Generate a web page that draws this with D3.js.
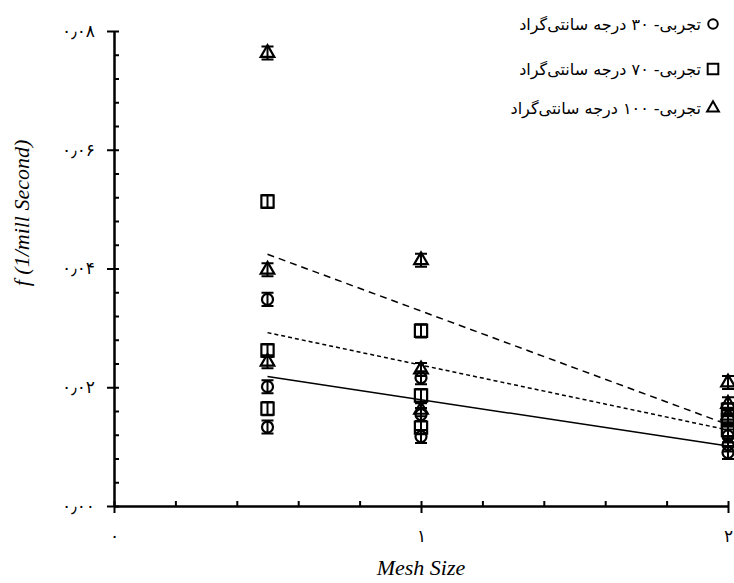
<!DOCTYPE html>
<html>
<meta charset="utf-8">
<script src="https://d3js.org/d3.v7.min.js"></script>
<style>
  body { margin: 0; background: #fff; }
  .fa { font-family: "DejaVu Sans", sans-serif; }
  .title { font-family: "Liberation Serif", "Times New Roman", serif; font-style: italic; }
</style>
<body>
<div id="my_dataviz"></div>
<script>

// mesh size of every measured point (3 repeats per mesh)
var meshX = [0.5, 0.5, 0.5, 1, 1, 1, 2, 2, 2];

// measured f (1/mill second) for each temperature
var f30  = [0.0348, 0.0201, 0.0133, 0.0216, 0.0154, 0.0117, 0.0118, 0.0103, 0.0090];
var f70  = [0.0513, 0.0262, 0.0164, 0.0295, 0.0186, 0.0132, 0.0162, 0.0145, 0.0128];
var f100 = [0.0763, 0.0398, 0.0243, 0.0414, 0.0230, 0.0162, 0.0208, 0.0172, 0.0152];

// error bar half length
var errHalf = 0.0011;

// trend lines (value at mesh 0.5 and mesh 2)
var trendX   = [0.5, 2];
var trend30  = [0.0218, 0.0101];
var trend70  = [0.0292, 0.0128];
var trend100 = [0.0424, 0.0137];

var legendLabels = [
  "تجربی- ۳۰ درجه سانتی‌گراد",
  "تجربی- ۷۰ درجه سانتی‌گراد",
  "تجربی- ۱۰۰ درجه سانتی‌گراد"
];

var xMajor = [0, 1, 2];
var yMajor = [0, 0.02, 0.04, 0.06, 0.08];

var width = 734, height = 583;

var svg = d3.select("#my_dataviz")
  .append("svg")
    .attr("width", width)
    .attr("height", height);

var x = d3.scaleLinear().domain([0, 2]).range([114, 728]);
var y = d3.scaleLinear().domain([0, 0.08]).range([506, 31]);

// persian digits
function fa(s) {
  return "\u200E" + String(s).replace(/[0-9]/g, function(c) { return "۰۱۲۳۴۵۶۷۸۹"[+c]; }).replace(".", "٫");
}

// minor ticks, pointing into the plot
svg.append("g")
    .attr("transform", "translate(0," + y(0) + ")")
    .call(d3.axisBottom(x).tickValues(d3.range(0, 2.001, 0.2)).tickSizeInner(-5).tickSizeOuter(0).tickFormat(""));
svg.append("g")
    .attr("transform", "translate(" + x(0) + ",0)")
    .call(d3.axisLeft(y).tickValues(d3.range(0, 0.0801, 0.004)).tickSizeInner(-5).tickSizeOuter(0).tickFormat(""));

// major ticks with labels
var xAxis = svg.append("g")
    .attr("transform", "translate(0," + y(0) + ")")
    .call(d3.axisBottom(x).tickValues(xMajor).tickSizeInner(7).tickSizeOuter(0).tickPadding(17).tickFormat(function(d) { return fa(d); }));
var yAxis = svg.append("g")
    .attr("transform", "translate(" + x(0) + ",0)")
    .call(d3.axisLeft(y).tickValues(yMajor).tickSizeInner(7).tickSizeOuter(0).tickPadding(12).tickFormat(function(d) { return fa(d.toFixed(2)); }));

svg.selectAll(".domain, .tick line").attr("stroke", "#000").attr("stroke-width", 2);
[xAxis, yAxis].forEach(function(a) {
  a.selectAll("text").attr("class", "fa").style("font-size", "17px").attr("fill", "#000");
});

// axis titles
svg.append("text")
    .attr("class", "title")
    .attr("x", x(1))
    .attr("y", 575)
    .attr("text-anchor", "middle")
    .style("font-size", "22px")
    .text("Mesh Size");
svg.append("text")
    .attr("class", "title")
    .attr("transform", "translate(29,213) rotate(-90)")
    .attr("text-anchor", "middle")
    .style("font-size", "22px")
    .text("f (1/mill Second)");

// trend lines
var line = d3.line().x(function(d) { return x(d[0]); }).y(function(d) { return y(d[1]); });
var trends = [
  {vals: trend30, dash: null},
  {vals: trend70, dash: "4,3"},
  {vals: trend100, dash: "7,5"}
];
trends.forEach(function(t) {
  svg.append("path")
    .datum(trendX.map(function(v, i) { return [v, t.vals[i]]; }))
    .attr("d", line)
    .attr("fill", "none")
    .attr("stroke", "#000")
    .attr("stroke-width", 1.5)
    .attr("stroke-dasharray", t.dash);
});

// points with error bars
var series = [
  {vals: f30, shape: d3.symbolCircle, size: 95},
  {vals: f70, shape: d3.symbolSquare, size: 150},
  {vals: f100, shape: d3.symbolTriangle, size: 80}
];
series.forEach(function(s) {
  var g = svg.append("g");
  var pts = s.vals.map(function(v, i) { return [meshX[i], v]; });
  g.selectAll("path.sym")
    .data(pts)
    .enter()
    .append("path")
      .attr("class", "sym")
      .attr("d", d3.symbol().type(s.shape).size(s.size))
      .attr("transform", function(d) { return "translate(" + x(d[0]) + "," + y(d[1]) + ")"; })
      .attr("fill", "none")
      .attr("stroke", "#000")
      .attr("stroke-width", 2.2);
  g.selectAll("path.err")
    .data(pts)
    .enter()
    .append("path")
      .attr("class", "err")
      .attr("d", function(d) {
        var cx = x(d[0]), y1 = y(d[1] + errHalf), y2 = y(d[1] - errHalf);
        return "M" + cx + "," + y1 + "V" + y2 + "M" + (cx - 6) + "," + y1 + "H" + (cx + 6) + "M" + (cx - 6) + "," + y2 + "H" + (cx + 6);
      })
      .attr("fill", "none")
      .attr("stroke", "#000")
      .attr("stroke-width", 2);
});

// legend
var legendY = [24, 69, 108];
series.forEach(function(s, i) {
  svg.append("path")
    .attr("d", d3.symbol().type(s.shape).size(s.size * 0.75))
    .attr("transform", "translate(713," + legendY[i] + ")")
    .attr("fill", "none")
    .attr("stroke", "#000")
    .attr("stroke-width", 2);
  svg.append("text")
    .attr("class", "fa")
    .attr("x", 701)
    .attr("y", legendY[i])
    .attr("dy", "0.35em")
    .attr("direction", "rtl")
    .attr("text-anchor", "start")
    .style("font-size", "16px")
    .text(legendLabels[i]);
});

</script>
</body>
</html>
